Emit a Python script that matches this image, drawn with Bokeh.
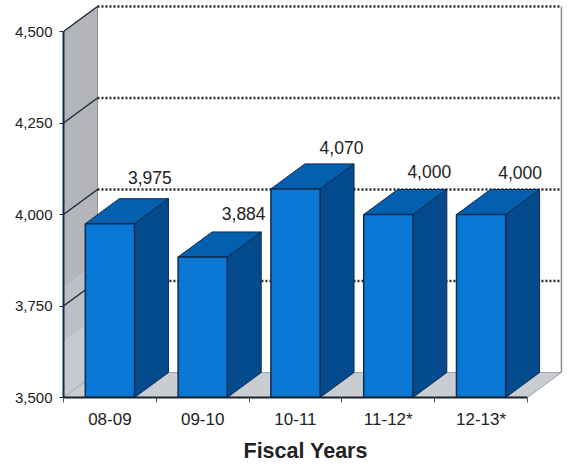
from bokeh.embed import file_html
from bokeh.models import FixedTicker, Range1d, Title
from bokeh.plotting import figure
from bokeh.resources import INLINE

# Enrollment by fiscal year
years = ["08-09", "09-10", "10-11", "11-12*", "12-13*"]
values = [3975, 3884, 4070, 4000, 4000]
y_ticks = [3500, 3750, 4000, 4250, 4500]
grid_levels = [3750, 4000, 4250, 4500]

# Layout of the pseudo-3D box, in axis units
Y_MIN = 3500
Y_MAX = 4584.7
X_MAX = 5.453
DEPTH_X = 0.366
DEPTH_Y = 68.3
BAR_W = 0.53
BACK_LEFT = DEPTH_X
BACK_RIGHT = 5 + DEPTH_X

# Left wall shading, lighter toward the floor
wall_bands = [(3500, 3650, "#c4c8cf"), (3650, 3800, "#bcbfc6"), (3800, 4500, "#b3b5bb")]

# Hand-placed value label nudges, in pixels
label_dx = [40, 41, 46, 41, 39]
label_dy = [46, 43, 41, 43, 42]

INK = "#0d2c52"
TEXT = "#222222"

p = figure(
    width=569, height=468, output_backend="svg", toolbar_location=None,
    x_range=Range1d(0, X_MAX), y_range=Range1d(Y_MIN, Y_MAX),
    min_border_left=63, min_border_right=0, min_border_top=0, min_border_bottom=71,
    background_fill_color="white", border_fill_color="white", outline_line_color=None,
)
p.grid.visible = False

# Left wall of the box
for low, high, shade in wall_bands:
    p.patch([0, BACK_LEFT, BACK_LEFT, 0],
            [low, low + DEPTH_Y, high + DEPTH_Y, high],
            fill_color=shade, line_color=None)

# Floor of the box
p.patch([0, BACK_LEFT, BACK_RIGHT, 5],
        [Y_MIN, Y_MIN + DEPTH_Y, Y_MIN + DEPTH_Y, Y_MIN],
        fill_color="#c9cdd2", line_color="#9ea2aa", line_width=1)

# Back wall edges
p.line([BACK_RIGHT, BACK_RIGHT], [Y_MIN + DEPTH_Y, 4500 + DEPTH_Y],
       line_color="#8b8f9a", line_width=1.5)
p.line([BACK_LEFT, BACK_LEFT], [Y_MIN + DEPTH_Y, 4500 + DEPTH_Y],
       line_color="#8b8f9a", line_width=1)

# Gridlines: solid across the wall, dotted across the back
for level in grid_levels:
    p.line([0, BACK_LEFT], [level, level + DEPTH_Y], line_color="#222a38", line_width=1.5)
    p.line([BACK_LEFT, BACK_RIGHT], [level + DEPTH_Y, level + DEPTH_Y],
           line_color="#26282e", line_width=2.4, line_dash="2 2")

# Bars: side, top, then front face
centres = [i + 0.5 for i in range(len(years))]
lefts = [c - BAR_W / 2 for c in centres]
rights = [c + BAR_W / 2 for c in centres]

p.patches(
    [[r, r + DEPTH_X, r + DEPTH_X, r] for r in rights],
    [[Y_MIN, Y_MIN + DEPTH_Y, v + DEPTH_Y, v] for v in values],
    fill_color="#034b8d", line_color=INK, line_width=1,
)
p.patches(
    [[l, l + DEPTH_X, r + DEPTH_X, r] for l, r in zip(lefts, rights)],
    [[v, v + DEPTH_Y, v + DEPTH_Y, v] for v in values],
    fill_color="#045fae", line_color=INK, line_width=1,
)
p.quad(left=lefts, right=rights, bottom=Y_MIN, top=values,
       fill_color="#0878d4", line_color=INK, line_width=1.5)

# Value labels
p.text(
    x=centres, y=values, text=[f"{v:,}" for v in values],
    x_offset=label_dx, y_offset=[-d for d in label_dy],
    text_font={"value": "Liberation Sans"}, text_font_size="17.5px", text_color=TEXT,
    text_align="center", text_baseline="middle",
)

# Value axis
ya = p.yaxis[0]
ya.bounds = (Y_MIN, 4500)
ya.ticker = FixedTicker(ticks=y_ticks)
ya.major_label_overrides = {t: f"{t:,}" for t in y_ticks}
ya.minor_tick_line_color = None
ya.major_tick_in = 0
ya.major_tick_out = 4
ya.major_label_standoff = 7
ya.axis_line_color = INK
ya.axis_line_width = 2
ya.major_tick_line_color = INK
ya.major_label_text_font = "Liberation Sans"
ya.major_label_text_font_size = "15px"
ya.major_label_text_color = TEXT

# Category axis: labels at bar centres, ticks on the boundaries between them
xa = p.xaxis[0]
xa.bounds = (0, 5)
xa.ticker = FixedTicker(ticks=centres, minor_ticks=list(range(6)))
xa.major_label_overrides = {c: y for c, y in zip(centres, years)}
xa.major_tick_line_color = None
xa.major_tick_in = 0
xa.major_tick_out = 0
xa.minor_tick_in = 0
xa.minor_tick_out = 5
xa.minor_tick_line_color = "#555555"
xa.major_label_standoff = 7
xa.axis_line_color = "#1a2230"
xa.axis_line_width = 2
xa.major_label_text_font = "Liberation Sans"
xa.major_label_text_font_size = "17px"
xa.major_label_text_color = TEXT

# Axis title, centred under the bars rather than the whole frame
p.add_layout(Title(
    text="Fiscal Years", align="left", offset=180, standoff=11,
    text_font="Liberation Sans", text_font_size="21.5px", text_font_style="bold",
    text_color=TEXT,
), "below")

open("out.html", "w").write(file_html(p, INLINE))
